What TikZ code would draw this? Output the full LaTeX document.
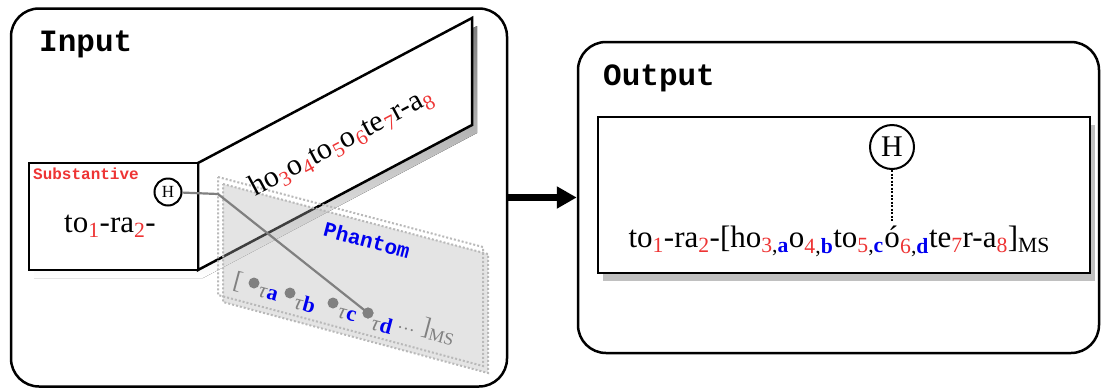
\documentclass[tikz,border=0pt]{standalone}
\usepackage{fontspec}
\setmainfont{Liberation Serif}
\setmonofont{Liberation Mono}
\usetikzlibrary{arrows.meta,positioning,shadows}
\definecolor{idxred}{RGB}{238,52,52}
\definecolor{tagblue}{RGB}{0,0,240}
\definecolor{shade}{RGB}{192,192,192}
\newcommand{\fs}[1]{\fontsize{#1}{#1}\selectfont}
\newcommand{\ix}[1]{\textsubscript{\textcolor{idxred}{#1}}}
\newcommand{\ixl}[2]{\textsubscript{\textcolor{idxred}{#1},\textcolor{tagblue}{\textbf{#2}}}}

\begin{document}
\begin{tikzpicture}[x=1pt,y=-1pt]
    \tikzstyle{panel}=[draw, line width=2.5pt, rounded corners=28pt, inner sep=0pt]
    \tikzstyle{box}=[draw, line width=2.5pt, fill=white, inner sep=0pt]
    \tikzstyle{hcirc}=[circle, draw, line width=2pt, fill=white, inner sep=0pt]
    \tikzstyle{title}=[font=\ttfamily\bfseries\fs{31}, anchor=base west, inner sep=0pt]
    \tikzstyle{word}=[font=\fs{31}, inner sep=0pt]
    \tikzstyle{ghost}=[draw=gray!55, line width=2pt, dash pattern=on 2pt off 2pt]
    \tikzstyle{phdot}=[circle, fill=gray, minimum size=11pt, inner sep=0pt]
    \tikzstyle{tau}=[font=\fs{22}, text=gray, inner sep=0pt, rotate=-15]
    \tikzstyle{row}=[font=\fs{25}, text=gray, inner sep=0pt, rotate=-15, anchor=base west]
    \useasboundingbox (0,0) rectangle (1103,389);

    % input
    \node[panel, minimum width=496pt, minimum height=378pt] (in) at (259,197.5) {};
    \node[title] (itl) at (39,51) {Input};
    \fill[shade, shift={(5,8)}] (29,163) -- (198,163) -- (472,18) -- (472,125) -- (198,270) -- (29,270) -- cycle;
    \draw[line width=2.5pt, fill=white] (198,163) -- (472,18) -- (472,125) -- (198,270) -- cycle;
    \node[box, minimum width=169pt, minimum height=107pt] (sub) at (113.5,216.5) {};
    \node[font=\ttfamily\bfseries\fs{16}, text=idxred, anchor=base west, inner sep=0pt] (stl) at (33,179) {Substantive};
    \node[word, anchor=base] (stem) at (110,232) {to\ix{1}-ra\ix{2}-};

    % phantom
    \filldraw[ghost, fill=black!30, fill opacity=.35, shift={(5,7)}] (218,177) -- (483,247) -- (483,366) -- (218,295) -- cycle;
    \draw[ghost] (218,177) -- (483,247) -- (483,366) -- (218,295) -- cycle;
    \node[font=\fs{30}, rotate=28, anchor=base, inner sep=0pt] (rest) at (345,149) {ho\ix{3}o\ix{4}to\ix{5}o\ix{6}te\ix{7}r-a\ix{8}};
    \node[font=\ttfamily\bfseries\fs{21}, text=tagblue, rotate=-15] (ptl) at (367,240) {Phantom};
    \node[row] (lbr) at (232,287) {[};
    \node[phdot] (ta) at (254,283) {};
    \node[phdot] (tb) at (290,293) {};
    \node[phdot] (tc) at (333,303) {};
    \node[phdot] (td) at (368,313) {};
    \node[tau] (la) at (268,294) {\textit{τ}\textcolor{tagblue}{\textbf{a}}};
    \node[tau] (lb) at (305,304) {\textit{τ}\textcolor{tagblue}{\textbf{b}}};
    \node[tau] (lc) at (347,315) {\textit{τ}\textcolor{tagblue}{\textbf{c}}};
    \node[tau] (ld) at (382,325) {\textit{τ}\textcolor{tagblue}{\textbf{d}}};
    \node[row] (rbr) at (397,327) {{\fs{18}\dots} ]\textsubscript{MS}};
    \coordinate (hk) at (218,194);
    \node[hcirc, minimum size=27pt, font=\fs{17}] (hs) at (168,192) {H};
    \draw[line width=2.2pt, gray] (hs) -- (hk) -- (td.center);
    \node[phdot] at (td) {};

    % output
    \node[panel, minimum width=521pt, minimum height=311pt] (out) at (838.5,197.5) {};
    \node[title] (otl) at (603,85) {Output};
    \node[box, minimum width=492pt, minimum height=156pt,
          drop shadow={shadow xshift=5pt, shadow yshift=-8pt, fill=shade, opacity=1}] (obox) at (844,195) {};
    \node[word, anchor=base] (oacc) at (892,247) {ó};
    \node[word, anchor=base east] (opre) at (oacc.base west) {to\ix{1}-ra\ix{2}-[ho\ixl{3}{a}o\ixl{4}{b}to\ixl{5}{c}};
    \node[word, anchor=base west] (opost) at (oacc.base east) {\ixl{6}{d}te\ix{7}r-a\ix{8}]\textsubscript{MS}};
    \node[hcirc, minimum size=44pt, font=\fs{30}] (ho) at (892,147) {H};
    \draw[line width=2pt, dash pattern=on 2pt off 1.5pt, shorten >=3pt] (ho) -- (oacc);

    \draw[line width=7pt, -{Triangle[length=20pt, width=21pt]}] (in.east) -- (out.west);
\end{tikzpicture}
\end{document}
